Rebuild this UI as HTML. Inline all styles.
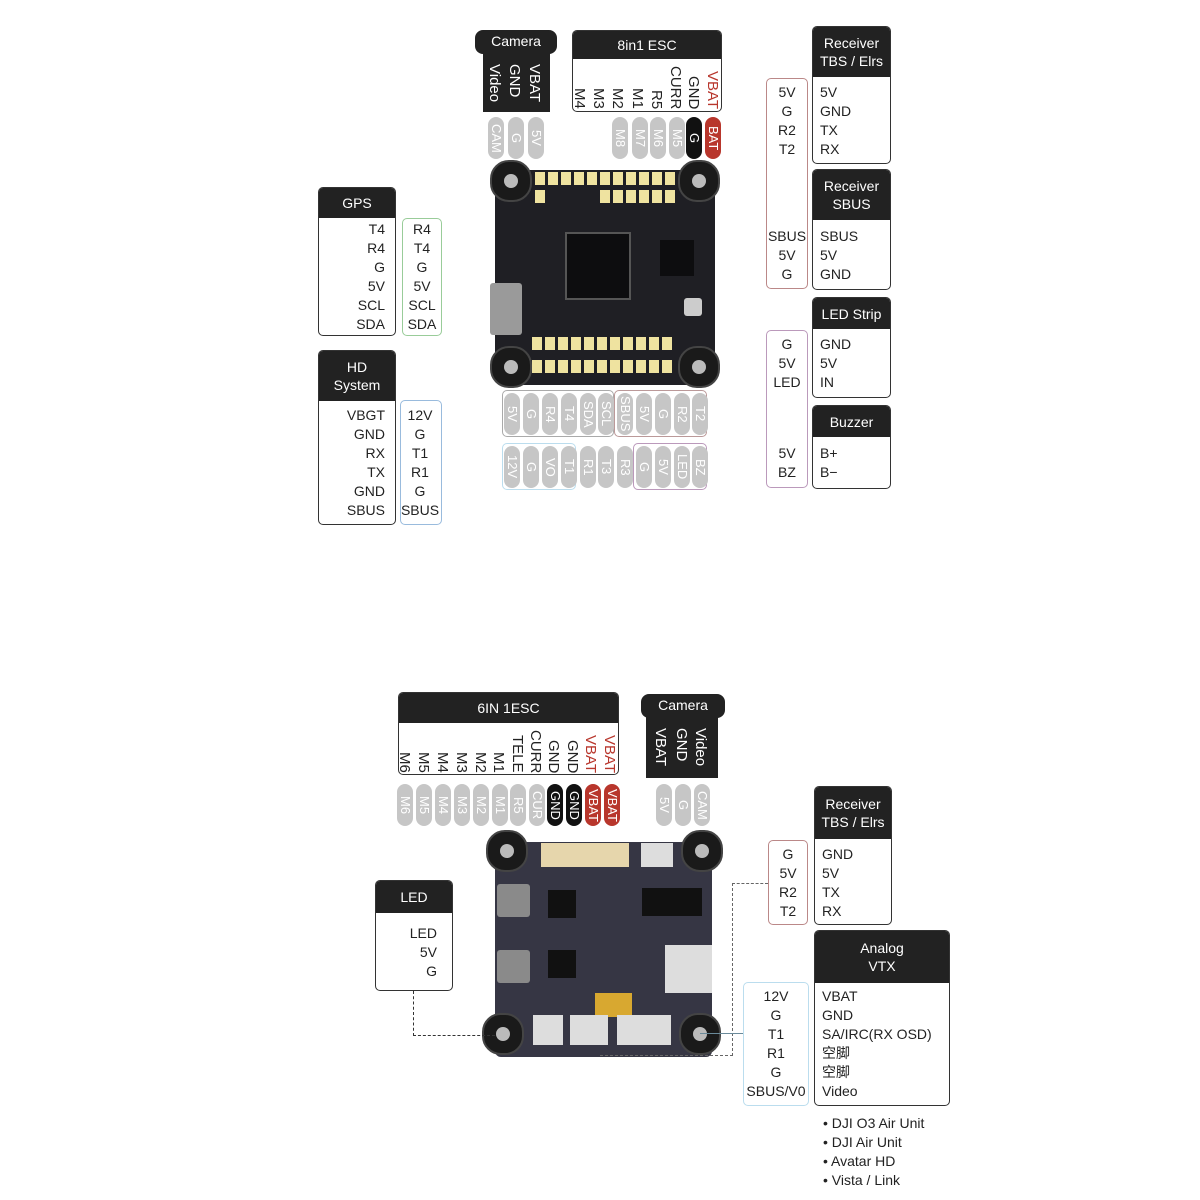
<!DOCTYPE html>
<html><head><meta charset="utf-8"><style>
*{margin:0;padding:0;box-sizing:border-box}
body{width:1200px;height:1200px;position:relative;background:#fff;font-family:"Liberation Sans","Noto Sans CJK SC",sans-serif;color:#222;overflow:hidden}
.a{position:absolute}
.p{position:absolute;width:16px;height:42px;border-radius:8px;background:#c6c6c6;color:#fff;writing-mode:vertical-rl;font-size:13px;display:flex;align-items:center;justify-content:center;line-height:16px;white-space:nowrap}
.pk{background:#111}.pr{background:#b8362c}
.v{position:absolute;writing-mode:vertical-rl;font-size:15px;line-height:18px;white-space:nowrap}
.bx{position:absolute;border:1px solid #333;border-radius:5px;background:#fff;overflow:hidden}
.hd{background:#222;color:#fff;text-align:center;font-size:14px;display:flex;align-items:center;justify-content:center;line-height:18px}
.t{position:absolute;font-size:14px;line-height:19px;white-space:nowrap}
.g{position:absolute;border:1px solid;border-radius:5px}
.hole{position:absolute;width:42px;height:42px;border-radius:45%;background:#1a1a1a;border:2px solid #444}
.hole:after{content:"";position:absolute;left:12px;top:12px;width:14px;height:14px;border-radius:50%;background:#bbb}
.pad{position:absolute;width:10px;height:13px;background:#efe3a0}
.red{color:#b8362c}
</style></head><body>

<!-- ===== TOP: Camera ===== -->
<div class="a" style="left:475px;top:30px;width:82px;height:24px;background:#222;border-radius:8px;color:#fff;font-size:14px;text-align:center;line-height:22px">Camera</div>
<div class="a" style="left:483px;top:50px;width:67px;height:62px;background:#222"></div>
<div class="v" style="left:485px;top:64px;color:#fff">Video</div>
<div class="v" style="left:505px;top:64px;color:#fff">GND</div>
<div class="v" style="left:525px;top:64px;color:#fff">VBAT</div>
<div class="p" style="left:488px;top:117px">CAM</div>
<div class="p" style="left:508px;top:117px">G</div>
<div class="p" style="left:528px;top:117px">5V</div>

<!-- 8in1 ESC -->
<div class="bx" style="left:572px;top:30px;width:150px;height:82px"><div class="hd" style="height:28px">8in1 ESC</div></div>
<div class="v" style="left:570px;bottom:1091px">M4</div>
<div class="v" style="left:589px;bottom:1091px">M3</div>
<div class="v" style="left:608px;bottom:1091px">M2</div>
<div class="v" style="left:628px;bottom:1091px">M1</div>
<div class="v" style="left:647px;bottom:1091px">R5</div>
<div class="v" style="left:666px;bottom:1091px">CURR</div>
<div class="v" style="left:684px;bottom:1091px">GND</div>
<div class="v red" style="left:703px;bottom:1091px">VBAT</div>
<div class="p" style="left:612px;top:117px">M8</div>
<div class="p" style="left:632px;top:117px">M7</div>
<div class="p" style="left:650px;top:117px">M6</div>
<div class="p" style="left:669px;top:117px">M5</div>
<div class="p pk" style="left:686px;top:117px">G</div>
<div class="p pr" style="left:705px;top:117px">BAT</div>

<!-- Board 1 -->
<div class="a" style="left:495px;top:170px;width:220px;height:215px;background:#1f1f24;border-radius:6px"></div>
<div class="a" style="left:565px;top:232px;width:66px;height:68px;background:#0d0d0f;border:2px solid #555"></div>
<div class="a" style="left:660px;top:240px;width:34px;height:36px;background:#0d0d0f"></div>
<div class="a" style="left:490px;top:283px;width:32px;height:52px;background:#9a9a9a;border-radius:3px"></div>
<div class="a" style="left:684px;top:298px;width:18px;height:18px;background:#ccc;border-radius:3px"></div>
<div class="pad" style="left:535px;top:172px"></div><div class="pad" style="left:548px;top:172px"></div><div class="pad" style="left:561px;top:172px"></div><div class="pad" style="left:574px;top:172px"></div><div class="pad" style="left:587px;top:172px"></div><div class="pad" style="left:600px;top:172px"></div><div class="pad" style="left:613px;top:172px"></div><div class="pad" style="left:626px;top:172px"></div><div class="pad" style="left:639px;top:172px"></div><div class="pad" style="left:652px;top:172px"></div><div class="pad" style="left:665px;top:172px"></div>
<div class="pad" style="left:535px;top:190px"></div><div class="pad" style="left:600px;top:190px"></div><div class="pad" style="left:613px;top:190px"></div><div class="pad" style="left:626px;top:190px"></div><div class="pad" style="left:639px;top:190px"></div><div class="pad" style="left:652px;top:190px"></div><div class="pad" style="left:665px;top:190px"></div>
<div class="pad" style="left:532px;top:337px"></div><div class="pad" style="left:545px;top:337px"></div><div class="pad" style="left:558px;top:337px"></div><div class="pad" style="left:571px;top:337px"></div><div class="pad" style="left:584px;top:337px"></div><div class="pad" style="left:597px;top:337px"></div><div class="pad" style="left:610px;top:337px"></div><div class="pad" style="left:623px;top:337px"></div><div class="pad" style="left:636px;top:337px"></div><div class="pad" style="left:649px;top:337px"></div><div class="pad" style="left:662px;top:337px"></div>
<div class="pad" style="left:532px;top:360px"></div><div class="pad" style="left:545px;top:360px"></div><div class="pad" style="left:558px;top:360px"></div><div class="pad" style="left:571px;top:360px"></div><div class="pad" style="left:584px;top:360px"></div><div class="pad" style="left:597px;top:360px"></div><div class="pad" style="left:610px;top:360px"></div><div class="pad" style="left:623px;top:360px"></div><div class="pad" style="left:636px;top:360px"></div><div class="pad" style="left:649px;top:360px"></div><div class="pad" style="left:662px;top:360px"></div>
<div class="hole" style="left:490px;top:160px"></div><div class="hole" style="left:678px;top:160px"></div>
<div class="hole" style="left:490px;top:346px"></div><div class="hole" style="left:678px;top:346px"></div>

<!-- GPS -->
<div class="bx" style="left:318px;top:187px;width:78px;height:149px"><div class="hd" style="height:30px">GPS</div></div>
<div class="t" style="right:815px;top:220px;text-align:right">T4<br>R4<br>G<br>5V<br>SCL<br>SDA</div>
<div class="g" style="left:402px;top:218px;width:40px;height:118px;border-color:#9c9"></div>
<div class="t" style="left:402px;width:40px;top:220px;text-align:center">R4<br>T4<br>G<br>5V<br>SCL<br>SDA</div>

<!-- HD System -->
<div class="bx" style="left:318px;top:350px;width:78px;height:175px"><div class="hd" style="height:50px">HD<br>System</div></div>
<div class="t" style="right:815px;top:406px;text-align:right">VBGT<br>GND<br>RX<br>TX<br>GND<br>SBUS</div>
<div class="g" style="left:400px;top:400px;width:42px;height:125px;border-color:#9bd"></div>
<div class="t" style="left:398px;width:44px;top:406px;text-align:center">12V<br>G<br>T1<br>R1<br>G<br>SBUS</div>

<!-- bottom pads top board -->
<div class="g" style="left:502px;top:390px;width:112px;height:47px;border-color:#aaa"></div>
<div class="g" style="left:614px;top:390px;width:93px;height:47px;border-color:#b99"></div>
<div class="g" style="left:502px;top:443px;width:74px;height:47px;border-color:#bde"></div>
<div class="g" style="left:633px;top:443px;width:74px;height:47px;border-color:#b9b"></div>
<div class="p" style="left:504px;top:393px">5V</div><div class="p" style="left:523px;top:393px">G</div><div class="p" style="left:542px;top:393px">R4</div><div class="p" style="left:561px;top:393px">T4</div><div class="p" style="left:580px;top:393px">SDA</div><div class="p" style="left:598px;top:393px">SCL</div><div class="p" style="left:617px;top:393px">SBUS</div><div class="p" style="left:636px;top:393px">5V</div><div class="p" style="left:655px;top:393px">G</div><div class="p" style="left:674px;top:393px">R2</div><div class="p" style="left:692px;top:393px">T2</div>
<div class="p" style="left:504px;top:446px">12V</div><div class="p" style="left:523px;top:446px">G</div><div class="p" style="left:542px;top:446px">VO</div><div class="p" style="left:561px;top:446px">T1</div><div class="p" style="left:580px;top:446px">R1</div><div class="p" style="left:598px;top:446px">T3</div><div class="p" style="left:617px;top:446px">R3</div><div class="p" style="left:636px;top:446px">G</div><div class="p" style="left:655px;top:446px">5V</div><div class="p" style="left:674px;top:446px">LED</div><div class="p" style="left:692px;top:446px">BZ</div>

<!-- Right top -->
<div class="g" style="left:766px;top:78px;width:42px;height:211px;border-color:#b88"></div>
<div class="t" style="left:764px;width:46px;top:83px;text-align:center">5V<br>G<br>R2<br>T2</div>
<div class="t" style="left:764px;width:46px;top:227px;text-align:center">SBUS<br>5V<br>G</div>
<div class="g" style="left:766px;top:330px;width:42px;height:158px;border-color:#b9b"></div>
<div class="t" style="left:764px;width:46px;top:335px;text-align:center">G<br>5V<br>LED</div>
<div class="t" style="left:764px;width:46px;top:444px;text-align:center">5V<br>BZ</div>

<div class="bx" style="left:812px;top:26px;width:79px;height:138px"><div class="hd" style="height:50px">Receiver<br>TBS / Elrs</div></div>
<div class="t" style="left:820px;top:83px">5V<br>GND<br>TX<br>RX</div>
<div class="bx" style="left:812px;top:169px;width:79px;height:121px"><div class="hd" style="height:50px">Receiver<br>SBUS</div></div>
<div class="t" style="left:820px;top:227px">SBUS<br>5V<br>GND</div>
<div class="bx" style="left:812px;top:297px;width:79px;height:101px"><div class="hd" style="height:31px">LED Strip</div></div>
<div class="t" style="left:820px;top:335px">GND<br>5V<br>IN</div>
<div class="bx" style="left:812px;top:405px;width:79px;height:84px"><div class="hd" style="height:31px">Buzzer</div></div>
<div class="t" style="left:820px;top:444px">B+<br>B−</div>

<!-- ===== BOTTOM ===== -->
<div class="bx" style="left:398px;top:692px;width:221px;height:83px"><div class="hd" style="height:30px">6IN 1ESC</div></div>
<div class="v" style="left:395px;bottom:427px">M6</div>
<div class="v" style="left:414px;bottom:427px">M5</div>
<div class="v" style="left:433px;bottom:427px">M4</div>
<div class="v" style="left:452px;bottom:427px">M3</div>
<div class="v" style="left:471px;bottom:427px">M2</div>
<div class="v" style="left:489px;bottom:427px">M1</div>
<div class="v" style="left:508px;bottom:427px">TELE</div>
<div class="v" style="left:526px;bottom:427px">CURR</div>
<div class="v" style="left:544px;bottom:427px">GND</div>
<div class="v" style="left:563px;bottom:427px">GND</div>
<div class="v red" style="left:581px;bottom:427px">VBAT</div>
<div class="v red" style="left:600px;bottom:427px">VBAT</div>
<div class="p" style="left:397px;top:784px">M6</div><div class="p" style="left:416px;top:784px">M5</div><div class="p" style="left:435px;top:784px">M4</div><div class="p" style="left:454px;top:784px">M3</div><div class="p" style="left:473px;top:784px">M2</div><div class="p" style="left:492px;top:784px">M1</div><div class="p" style="left:510px;top:784px">R5</div><div class="p" style="left:529px;top:784px">CUR</div><div class="p pk" style="left:547px;top:784px">GND</div><div class="p pk" style="left:566px;top:784px">GND</div><div class="p pr" style="left:585px;top:784px">VBAT</div><div class="p pr" style="left:604px;top:784px">VBAT</div>

<div class="a" style="left:641px;top:694px;width:84px;height:24px;background:#222;border-radius:8px;color:#fff;font-size:14px;text-align:center;line-height:22px">Camera</div>
<div class="a" style="left:646px;top:714px;width:72px;height:64px;background:#222"></div>
<div class="v" style="left:651px;top:728px;color:#fff">VBAT</div>
<div class="v" style="left:672px;top:728px;color:#fff">GND</div>
<div class="v" style="left:691px;top:728px;color:#fff">Video</div>
<div class="p" style="left:656px;top:784px">5V</div><div class="p" style="left:675px;top:784px">G</div><div class="p" style="left:694px;top:784px">CAM</div>

<!-- Board 2 -->
<div class="a" style="left:495px;top:842px;width:217px;height:215px;background:#363644;border-radius:6px"></div>
<div class="a" style="left:541px;top:843px;width:88px;height:24px;background:#e6d6ac"></div>
<div class="a" style="left:641px;top:843px;width:32px;height:24px;background:#ddd"></div>
<div class="a" style="left:497px;top:884px;width:33px;height:33px;background:#8a8a8a;border-radius:3px"></div>
<div class="a" style="left:497px;top:950px;width:33px;height:33px;background:#8a8a8a;border-radius:3px"></div>
<div class="a" style="left:548px;top:890px;width:28px;height:28px;background:#111"></div>
<div class="a" style="left:548px;top:950px;width:28px;height:28px;background:#111"></div>
<div class="a" style="left:642px;top:888px;width:60px;height:28px;background:#111"></div>
<div class="a" style="left:665px;top:945px;width:47px;height:48px;background:#ddd"></div>
<div class="a" style="left:595px;top:993px;width:37px;height:24px;background:#d8a830"></div>
<div class="a" style="left:533px;top:1015px;width:30px;height:30px;background:#ddd"></div>
<div class="a" style="left:570px;top:1015px;width:38px;height:30px;background:#ddd"></div>
<div class="a" style="left:617px;top:1015px;width:54px;height:30px;background:#ddd"></div>
<div class="hole" style="left:486px;top:830px"></div><div class="hole" style="left:681px;top:830px"></div>
<div class="hole" style="left:482px;top:1013px"></div><div class="hole" style="left:679px;top:1013px"></div>

<!-- LED box -->
<div class="bx" style="left:375px;top:880px;width:78px;height:111px"><div class="hd" style="height:32px">LED</div></div>
<div class="t" style="right:763px;top:924px;text-align:right">LED<br>5V<br>G</div>
<div class="a" style="left:413px;top:991px;width:82px;height:45px;border-left:1px dashed #333;border-bottom:1px dashed #333"></div>

<!-- right bottom -->
<div class="g" style="left:768px;top:840px;width:40px;height:85px;border-color:#b88"></div>
<div class="t" style="left:766px;width:44px;top:845px;text-align:center">G<br>5V<br>R2<br>T2</div>
<div class="a" style="left:732px;top:883px;width:36px;height:173px;border-left:1px dashed #666;border-top:1px dashed #666"></div>
<div class="a" style="left:600px;top:1055px;width:133px;height:0;border-top:1px dashed #666"></div>
<div class="a" style="left:700px;top:1033px;width:43px;height:0;border-top:1px solid #6a8a9a"></div>
<div class="bx" style="left:814px;top:786px;width:78px;height:139px"><div class="hd" style="height:52px">Receiver<br>TBS / Elrs</div></div>
<div class="t" style="left:822px;top:845px">GND<br>5V<br>TX<br>RX</div>

<div class="g" style="left:743px;top:982px;width:66px;height:124px;border-color:#bde"></div>
<div class="t" style="left:742px;width:68px;top:987px;text-align:center">12V<br>G<br>T1<br>R1<br>G<br>SBUS/V0</div>
<div class="bx" style="left:814px;top:930px;width:136px;height:176px"><div class="hd" style="height:52px">Analog<br>VTX</div></div>
<div class="t" style="left:822px;top:987px">VBAT<br>GND<br>SA/IRC(RX OSD)<br>空脚<br>空脚<br>Video</div>
<div class="t" style="left:823px;top:1114px">• DJI O3 Air Unit<br>• DJI Air Unit<br>• Avatar HD<br>• Vista / Link</div>
</body></html>
